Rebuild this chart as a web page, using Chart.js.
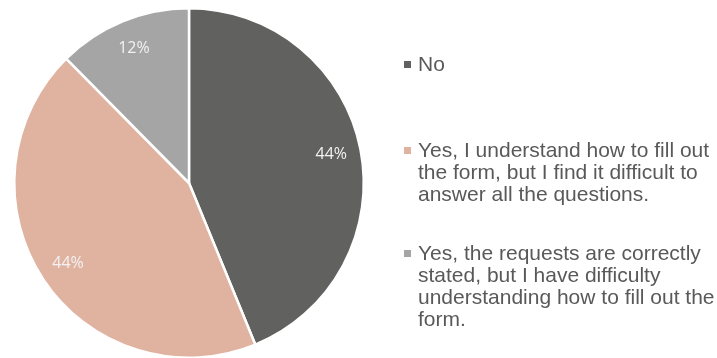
<!DOCTYPE html>
<html>
<head>
<meta charset="utf-8">
<script src="https://cdn.jsdelivr.net/npm/chart.js@4"></script>
<style>
    html, body { margin: 0; padding: 0; background: #fff; overflow: hidden; }
    #wrap { position: relative; width: 717px; height: 362px; }
</style>
</head>
<body>
<div id="wrap"><canvas id="pieChart" width="717" height="362"></canvas></div>
<script>
const categories = [
    'No',
    'Yes, I understand how to fill out the form, but I find it difficult to answer all the questions.',
    'Yes, the requests are correctly stated, but I have difficulty understanding how to fill out the form.'
];
const shares = [43.8, 43.8, 12.4]; // percent of respondents
const sliceColors = ['#61615f', '#e0b3a0', '#a5a5a5'];

// Custom legend on the right, wrapped like the original
const legendRight = {
    id: 'legendRight',
    afterDraw(chart) {
        const ctx = chart.ctx;
        const x = 418;
        const maxWidth = 300;
        const lineHeight = 22;
        const centers = [64, 172, 286]; // vertical middle of each legend entry
        ctx.save();
        ctx.font = '21px "Liberation Sans", Arial, sans-serif';
        ctx.textBaseline = 'middle';
        categories.forEach((label, i) => {
            // simple word wrap
            const words = label.split(' ');
            const lines = [];
            let line = '';
            words.forEach(w => {
                const test = line ? line + ' ' + w : w;
                if (ctx.measureText(test).width > maxWidth && line) {
                    lines.push(line);
                    line = w;
                } else {
                    line = test;
                }
            });
            lines.push(line);

            const top = centers[i] - (lines.length - 1) * lineHeight / 2;
            ctx.fillStyle = sliceColors[i];
            ctx.fillRect(404, top - 3, 7, 7);
            ctx.fillStyle = '#595959';
            lines.forEach((l, j) => ctx.fillText(l, x, top + j * lineHeight + 1));
        });
        ctx.restore();
    }
};

// Percent labels inside the slices
const sliceLabels = {
    id: 'sliceLabels',
    afterDatasetsDraw(chart) {
        const ctx = chart.ctx;
        const meta = chart.getDatasetMeta(0);
        const total = shares.reduce((a, b) => a + b, 0);
        ctx.save();
        ctx.font = '16px "Open Sans", sans-serif';
        ctx.fillStyle = '#f2f2f2';
        ctx.textAlign = 'center';
        ctx.textBaseline = 'middle';
        meta.data.forEach((arc, i) => {
            const mid = (arc.startAngle + arc.endAngle) / 2;
            const r = arc.outerRadius * 0.83;
            const pct = Math.round(shares[i] / total * 100) + '%';
            ctx.fillText(pct, arc.x + Math.cos(mid) * r, arc.y + Math.sin(mid) * r);
        });
        ctx.restore();
    }
};

new Chart(document.getElementById('pieChart'), {
    type: 'pie',
    data: {
        labels: categories,
        datasets: [{
            data: shares,
            backgroundColor: sliceColors,
            borderColor: '#ffffff',
            borderWidth: 2.5
        }]
    },
    options: {
        responsive: false,
        animation: false,
        layout: { padding: { left: 13, top: 7, right: 352, bottom: 3 } },
        plugins: {
            legend: { display: false },
            tooltip: { enabled: false }
        }
    },
    plugins: [sliceLabels, legendRight]
});
</script>
</body>
</html>
